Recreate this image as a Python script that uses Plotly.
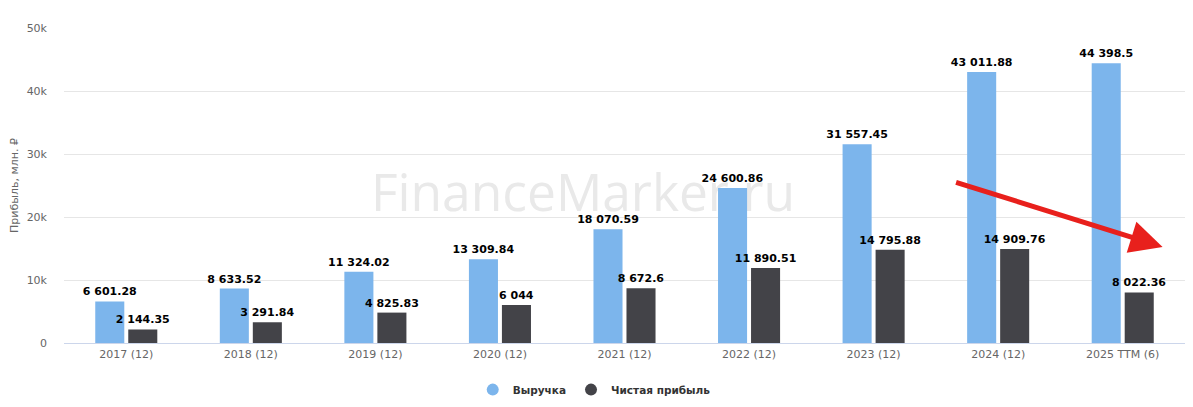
import plotly.graph_objects as go

categories = ["2017 (12)", "2018 (12)", "2019 (12)", "2020 (12)", "2021 (12)",
              "2022 (12)", "2023 (12)", "2024 (12)", "2025 TTM (6)"]
revenue = [6601.28, 8633.52, 11324.02, 13309.84, 18070.59, 24600.86, 31557.45, 43011.88, 44398.5]
net_profit = [2144.35, 3291.84, 4825.83, 6044, 8672.6, 11890.51, 14795.88, 14909.76, 8022.36]
y_ticks = [0, 10000, 20000, 30000, 40000, 50000]
y_tick_labels = ["0", "10k", "20k", "30k", "40k", "50k"]

BLUE = "#7cb5ec"
DARK = "#434348"


def fmt(v):
    s = "{:,}".format(v)
    if s.endswith(".0"):
        s = s[:-2]
    return s.replace(",", " ")


fig = go.Figure()

# watermark underneath the bars (main hidden subplot)
fig.add_trace(go.Scatter(
    x=[0.463], y=[0.46], mode="text", text=["FinanceMarker.ru"],
    textfont=dict(family="Open Sans", size=51.5, color="#e9e9e9"),
    xaxis="x", yaxis="y", showlegend=False, hoverinfo="skip"))

label_font = dict(family="DejaVu Sans", size=11, color="#000000", weight="bold")

fig.add_trace(go.Bar(
    x=categories, y=revenue, name="Выручка", marker=dict(color=BLUE, line=dict(width=0)),
    text=[fmt(v) for v in revenue], textposition="outside", textfont=label_font,
    constraintext="none", cliponaxis=False, xaxis="x2", yaxis="y2", showlegend=False))
fig.add_trace(go.Bar(
    x=categories, y=net_profit, name="Чистая прибыль", marker=dict(color=DARK, line=dict(width=0)),
    text=[fmt(v) for v in net_profit], textposition="outside", textfont=label_font,
    constraintext="none", cliponaxis=False, xaxis="x2", yaxis="y2", showlegend=False))

# legend entries with circle symbols
fig.add_trace(go.Scatter(x=[None], y=[None], mode="markers", name="Выручка",
                         marker=dict(color=BLUE, size=12, symbol="circle"),
                         xaxis="x2", yaxis="y2"))
fig.add_trace(go.Scatter(x=[None], y=[None], mode="markers", name="Чистая прибыль",
                         marker=dict(color=DARK, size=12, symbol="circle"),
                         xaxis="x2", yaxis="y2"))

fig.update_layout(
    width=1185, height=399,
    margin=dict(l=56, r=8, t=20, b=64, autoexpand=False),
    paper_bgcolor="white", plot_bgcolor="white",
    barmode="group", bargap=0.47, bargroupgap=0.12,
    font=dict(family="DejaVu Sans", size=11, color="#666666"),
    xaxis=dict(visible=False, range=[0, 1], fixedrange=True),
    yaxis=dict(visible=False, range=[0, 1], fixedrange=True),
    xaxis2=dict(overlaying="x", side="bottom", type="category", automargin=False,
                showline=True, linecolor="#ccd6eb", linewidth=1,
                showgrid=False, ticks="", tickfont=dict(size=11, color="#666666"),
                ticklabelstandoff=1),
    yaxis2=dict(overlaying="y", side="left", range=[0, 50000], automargin=False,
                tickvals=y_ticks, ticktext=y_tick_labels,
                showgrid=True, gridcolor="#e6e6e6", gridwidth=1,
                zeroline=False, showline=False, ticks="",
                ticklabelstandoff=16,
                tickfont=dict(size=11, color="#666666"),
                title=dict(text="Прибыль, млн. ₽", font=dict(size=11, color="#666666"),
                           standoff=13)),
    legend=dict(orientation="h", x=0.473, xanchor="center", y=-0.148, yanchor="middle",
                font=dict(family="DejaVu Sans", size=10.5, color="#333333", weight="bold"),
                itemsizing="constant", itemwidth=30),
    annotations=[dict(
        x=0.98, y=0.305, xref="paper", yref="paper",
        ax=-208, ay=-65, axref="pixel", ayref="pixel",
        text="", showarrow=True, arrowhead=2, arrowsize=1.3, arrowwidth=5,
        arrowcolor="#e8201c", standoff=0)],
)

fig.write_html("out.html")
